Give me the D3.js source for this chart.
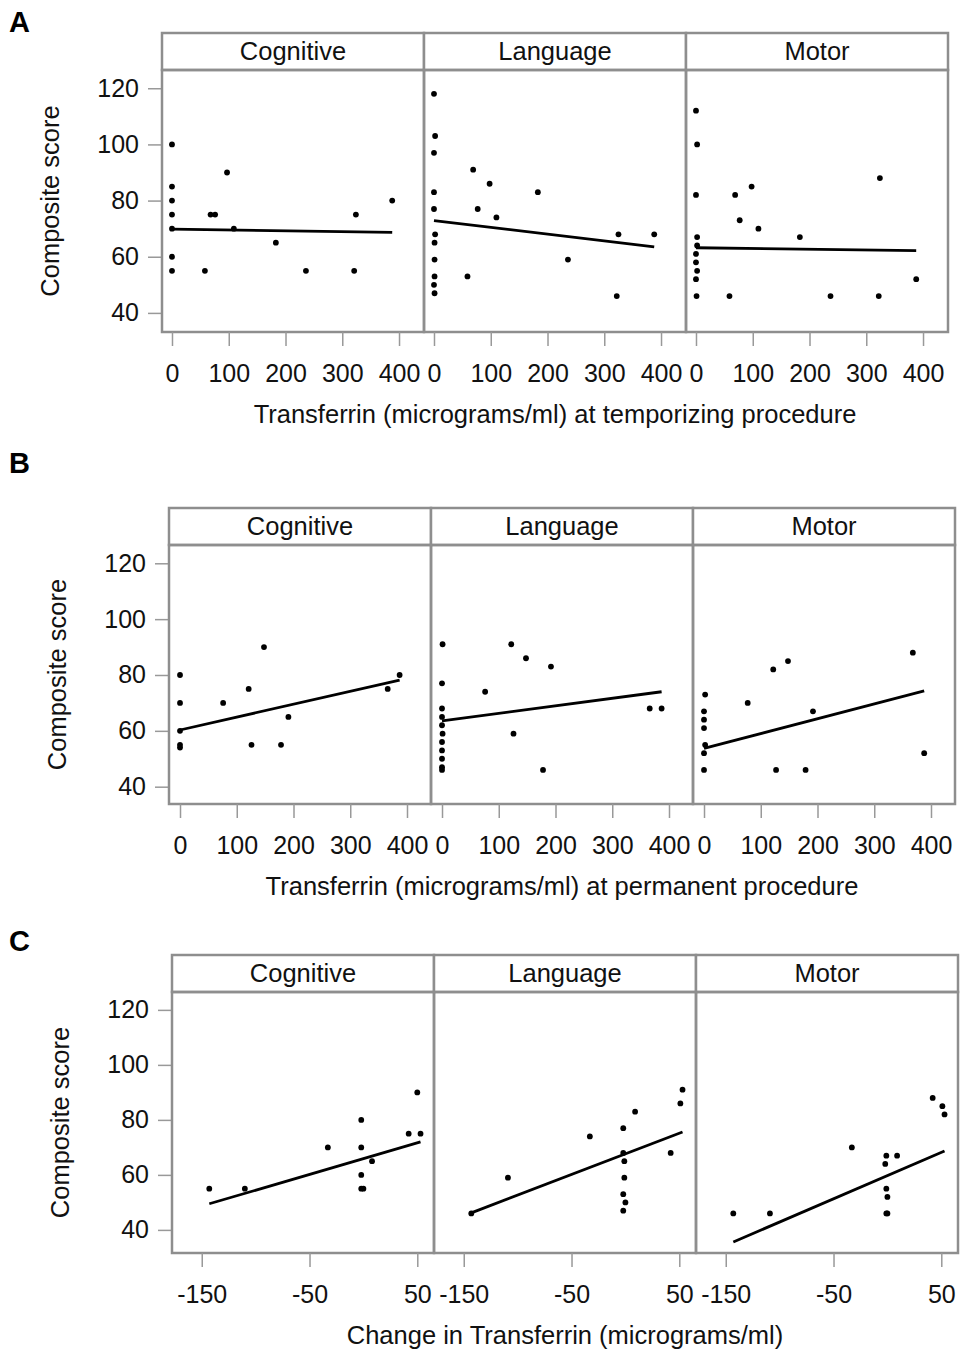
<!DOCTYPE html>
<html>
<head>
<meta charset="utf-8">
<script src="https://cdn.jsdelivr.net/npm/d3@7"></script>
<style>
  body { margin: 0; background: #fff; }
  text { font-family: "Liberation Sans", Arial, sans-serif; }
</style>
</head>
<body>
<div id="chart"></div>
<script>
// facet names and axis ticks
const domains = ["Cognitive", "Language", "Motor"];
const yTicks = [40, 60, 80, 100, 120];
const xTicksLevel = [0, 100, 200, 300, 400];
const xTicksChange = [-150, -50, 50];

// A: transferrin at temporizing procedure  [x, composite score]
const tempCognitive = [[0,100],[97,90],[0,85],[0,80],[0,75],[68,75],[76,75],[0,70],[109,70],[183,65],[0,60],[0,55],[58,55],[236,55],[321,55],[324,75],[388,80]];
const tempLanguage = [[0,118],[2,103],[0,97],[69,91],[98,86],[183,83],[0,83],[0,77],[77,77],[110,74],[2,68],[325,68],[388,68],[1,65],[1,59],[236,59],[1,53],[59,53],[0,50],[1,47],[322,46]];
const tempMotor = [[0,112],[2,100],[0,82],[69,82],[98,85],[77,73],[110,70],[183,67],[324,88],[2,67],[2,64],[0,61],[0,58],[2,55],[0,52],[388,52],[1,46],[59,46],[237,46],[322,46]];

// B: transferrin at permanent procedure
const permCognitive = [[148,90],[0,80],[387,80],[121,75],[366,75],[0,70],[76,70],[191,65],[0,60],[0,55],[0,54],[126,55],[178,55]];
const permLanguage = [[1,91],[122,91],[148,86],[192,83],[0,77],[76,74],[0,68],[366,68],[387,68],[0,65],[0,62],[1,59],[126,59],[0,56],[0,53],[0,50],[0,47],[0,46],[178,46]];
const permMotor = [[2,73],[0,67],[0,64],[0,61],[2,55],[0,52],[0,46],[77,70],[122,82],[148,85],[192,67],[368,88],[388,52],[127,46],[179,46]];

// C: change in transferrin
const changeCognitive = [[-143,55],[-110,55],[-33,70],[-2,80],[-2,70],[8,65],[-2,60],[-2,55],[0,55],[42,75],[53,75],[50,90]];
const changeLanguage = [[-143,46],[-109,59],[-33,74],[-2,77],[9,83],[-2,68],[-1,65],[-1,59],[-2,53],[0,50],[-2,47],[42,68],[51,86],[53,91]];
const changeMotor = [[-143,46],[-109,46],[-33,70],[-1,67],[9,67],[-2,64],[-1,55],[0,52],[-1,46],[0,46],[42,88],[51,85],[53,82]];

// fitted line: score at the smallest and largest x of each panel
const tempFit = [[69.8, 68.7], [72.9, 63.5], [63.2, 62.2]];
const permFit = [[60.3, 78.2], [63.6, 74.0], [53.7, 74.3]];
const changeFit = [[49.5, 72.0], [46.2, 75.6], [35.6, 68.7]];

const rows = [
  { tag: "A", data: [tempCognitive, tempLanguage, tempMotor], fit: tempFit,
    title: "Transferrin (micrograms/ml) at temporizing procedure",
    xTicks: xTicksLevel, xDomain: [-17.6, 444], yDomain: [33.2, 126.5],
    stripTop: 33, plotTop: 70, plotBottom: 332, left: 162, tagY: 32 },
  { tag: "B", data: [permCognitive, permLanguage, permMotor], fit: permFit,
    title: "Transferrin (micrograms/ml) at permanent procedure",
    xTicks: xTicksLevel, xDomain: [-19.4, 442.3], yDomain: [33.8, 126.55],
    stripTop: 508, plotTop: 545, plotBottom: 804, left: 169, tagY: 473 },
  { tag: "C", data: [changeCognitive, changeLanguage, changeMotor], fit: changeFit,
    title: "Change in Transferrin (micrograms/ml)",
    xTicks: xTicksChange, xDomain: [-177.6, 65.5], yDomain: [31.6, 126.5],
    stripTop: 955, plotTop: 992, plotBottom: 1253, left: 172, tagY: 951 }
];

const W = 961, H = 1355, panelW = 262;
const frame = "#8e8e8e";
const ink = "#111";
const fontFam = '"Liberation Sans", Arial, sans-serif';

const svg = d3.select("#chart").append("svg")
  .attr("width", W)
  .attr("height", H);

rows.forEach(row => {
  const g = svg.append("g");
  const y = d3.scaleLinear().domain(row.yDomain).range([row.plotBottom, row.plotTop]);

  // panel letter
  g.append("text")
    .attr("x", 9)
    .attr("y", row.tagY)
    .attr("font-size", 29)
    .attr("font-weight", "bold")
    .attr("fill", "#000")
    .text(row.tag);

  // y axis (left of first panel)
  const yAxis = g.append("g").attr("transform", `translate(${row.left},0)`)
    .call(d3.axisLeft(y).tickValues(yTicks).tickSize(14).tickPadding(9).tickFormat(d => String(d)));
  yAxis.select(".domain").remove();
  yAxis.selectAll("line").attr("stroke", "#999").attr("stroke-width", 1.5);
  yAxis.selectAll("text").attr("font-size", 25).attr("fill", ink).attr("font-family", fontFam);

  g.append("text")
    .attr("transform", `translate(${row.left - 112},${(row.plotTop + row.plotBottom) / 2}) rotate(-90)`)
    .attr("text-anchor", "middle")
    .attr("dominant-baseline", "central")
    .attr("font-size", 25.5)
    .attr("fill", ink)
    .text("Composite score");

  domains.forEach((name, i) => {
    const x0 = row.left + i * panelW;
    const x = d3.scaleLinear().domain(row.xDomain).range([x0, x0 + panelW]);
    const pts = row.data[i];

    // strip
    g.append("rect")
      .attr("x", x0).attr("y", row.stripTop)
      .attr("width", panelW).attr("height", row.plotTop - row.stripTop)
      .attr("fill", "#fff").attr("stroke", frame).attr("stroke-width", 2.5);
    g.append("text")
      .attr("x", x0 + panelW / 2)
      .attr("y", row.stripTop + 27)
      .attr("text-anchor", "middle")
      .attr("font-size", 25.5)
      .attr("fill", ink)
      .text(name);

    // plot frame
    g.append("rect")
      .attr("x", x0).attr("y", row.plotTop)
      .attr("width", panelW).attr("height", row.plotBottom - row.plotTop)
      .attr("fill", "none").attr("stroke", frame).attr("stroke-width", 2.5);

    // x axis
    const xAxis = g.append("g").attr("transform", `translate(0,${row.plotBottom})`)
      .call(d3.axisBottom(x).tickValues(row.xTicks).tickSize(14).tickPadding(18).tickFormat(d => String(d)));
    xAxis.select(".domain").remove();
    xAxis.selectAll("line").attr("stroke", "#999").attr("stroke-width", 1.5);
    xAxis.selectAll("text").attr("font-size", 25).attr("fill", ink).attr("font-family", fontFam);

    // fitted line
    const ext = d3.extent(pts, d => d[0]);
    const f = row.fit[i];
    g.append("line")
      .attr("x1", x(ext[0])).attr("y1", y(f[0]))
      .attr("x2", x(ext[1])).attr("y2", y(f[1]))
      .attr("stroke", "#000").attr("stroke-width", 2.8);

    // points
    g.selectAll(null)
      .data(pts)
      .enter()
      .append("circle")
      .attr("cx", d => x(d[0]))
      .attr("cy", d => y(d[1]))
      .attr("r", 2.9)
      .attr("fill", "#000");
  });

  // x axis title
  g.append("text")
    .attr("x", row.left + panelW * 1.5)
    .attr("y", row.plotBottom + 91)
    .attr("text-anchor", "middle")
    .attr("font-size", 25.5)
    .attr("fill", ink)
    .text(row.title);
});
</script>
</body>
</html>
